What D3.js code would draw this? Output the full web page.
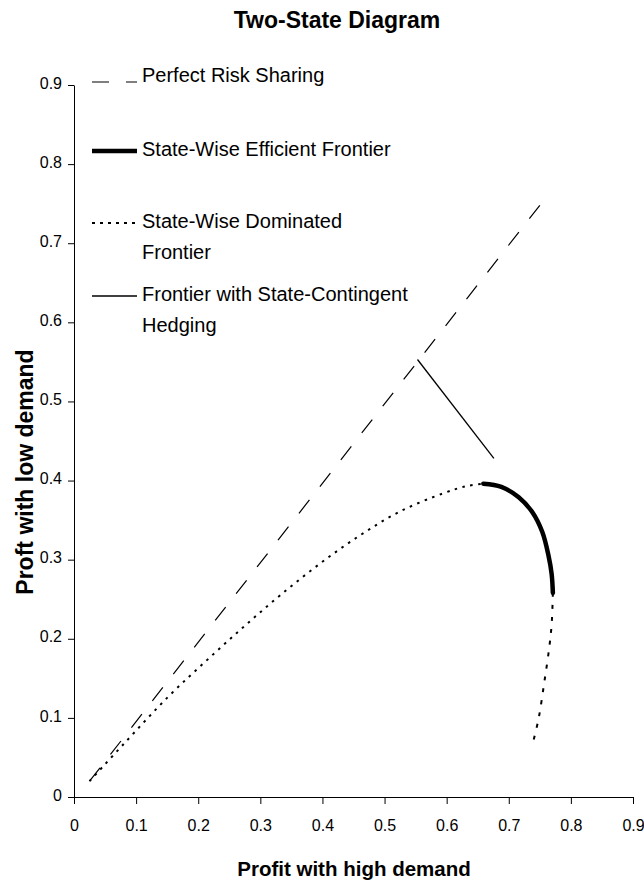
<!DOCTYPE html>
<html>
<head>
<meta charset="utf-8">
<script src="https://cdn.jsdelivr.net/npm/d3@7"></script>
<style>
  body { margin: 0; background: #fff; }
  svg text { font-family: "Liberation Sans", Arial, sans-serif; fill: #000; }
</style>
</head>
<body>
<svg id="chart" width="644" height="880"></svg>
<script>
// ──────────────────────
// Data
// ──────────────────────
const tickValues = [0, 0.1, 0.2, 0.3, 0.4, 0.5, 0.6, 0.7, 0.8, 0.9];

// Perfect risk sharing (45° line)
const riskSharingX = [0.025, 0.763];
const riskSharingY = [0.02, 0.761];

// Frontier with state-contingent hedging
const hedgingX = [0.553, 0.676];
const hedgingY = [0.553, 0.428];

// State-wise efficient frontier (thick)
const efficientX = [0.659, 0.688, 0.716, 0.738, 0.754, 0.764, 0.769, 0.771];
const efficientY = [0.396, 0.392, 0.379, 0.360, 0.335, 0.305, 0.282, 0.258];

// State-wise dominated frontier, rising part
const dominatedUpX = [0.025, 0.08, 0.152, 0.214, 0.273, 0.332, 0.396, 0.461, 0.525, 0.595, 0.632, 0.659];
const dominatedUpY = [0.02, 0.067, 0.127, 0.173, 0.215, 0.255, 0.295, 0.331, 0.361, 0.384, 0.393, 0.396];

// State-wise dominated frontier, falling part
const dominatedDownX = [0.771, 0.769, 0.765, 0.757, 0.748, 0.739];
const dominatedDownY = [0.258, 0.218, 0.188, 0.144, 0.099, 0.069];

const legendLabels = [
  ["Perfect Risk Sharing"],
  ["State-Wise Efficient Frontier"],
  ["State-Wise Dominated", "Frontier"],
  ["Frontier with State-Contingent", "Hedging"]
];

// ──────────────────────
// SVG & scales
// ──────────────────────
const svg = d3.select("#chart");
const margin = { top: 85, right: 11, bottom: 83, left: 74 };
const width = +svg.attr("width");
const height = +svg.attr("height");

const x = d3.scaleLinear().domain([0, 0.9]).range([margin.left, width - margin.right]);
const y = d3.scaleLinear().domain([0, 0.9]).range([height - margin.bottom, margin.top]);

const fmt = d => d === 0 ? "0" : d3.format(".1f")(d);

// ──────────────────────
// Axes
// ──────────────────────
const xAxis = svg.append("g")
  .attr("transform", `translate(0,${y(0)})`)
  .call(d3.axisBottom(x).tickValues(tickValues).tickFormat(fmt).tickSize(7).tickSizeOuter(0).tickPadding(16));

const yAxis = svg.append("g")
  .attr("transform", `translate(${x(0)},0)`)
  .call(d3.axisLeft(y).tickValues(tickValues).tickFormat(fmt).tickSize(6).tickSizeOuter(0).tickPadding(6));

[xAxis, yAxis].forEach(g => {
  g.select(".domain").attr("stroke", "#000");
  g.selectAll(".tick line").attr("stroke", "#000");
  g.selectAll(".tick text").attr("font-size", 16).attr("fill", "#000");
});
yAxis.selectAll(".tick text").attr("dy", "0.2em");

// ──────────────────────
// Series
// ──────────────────────
const zip = (xs, ys) => xs.map((v, i) => [v, ys[i]]);
const line = d3.line().x(d => x(d[0])).y(d => y(d[1]));
const curve = d3.line().x(d => x(d[0])).y(d => y(d[1])).curve(d3.curveCatmullRom.alpha(0.5));

svg.append("path")
  .attr("d", curve(zip(dominatedUpX, dominatedUpY)))
  .attr("fill", "none").attr("stroke", "#000")
  .attr("stroke-width", 2).attr("stroke-dasharray", "2.5,5.5");

svg.append("path")
  .attr("d", curve(zip(dominatedDownX, dominatedDownY)))
  .attr("fill", "none").attr("stroke", "#000")
  .attr("stroke-width", 2).attr("stroke-dasharray", "4,8");

svg.append("path")
  .attr("d", line(zip(riskSharingX, riskSharingY)))
  .attr("fill", "none").attr("stroke", "#000")
  .attr("stroke-width", 1.2).attr("stroke-dasharray", "17,17");

svg.append("path")
  .attr("d", line(zip(hedgingX, hedgingY)))
  .attr("fill", "none").attr("stroke", "#000")
  .attr("stroke-width", 1.3);

svg.append("path")
  .attr("d", curve(zip(efficientX, efficientY)))
  .attr("fill", "none").attr("stroke", "#000")
  .attr("stroke-width", 4.5).attr("stroke-linecap", "round");

// ──────────────────────
// Legend
// ──────────────────────
const legendStyles = [
  { dash: "17,17", w: 1.2 },
  { dash: null, w: 4.5 },
  { dash: "3,5", w: 2 },
  { dash: null, w: 1.3 }
];
const legendRows = [82, 156, 228, 301];

const legend = svg.append("g");
legendLabels.forEach((lines, i) => {
  const g = legend.append("g").attr("transform", `translate(92,${legendRows[i]})`);
  g.append("line")
    .attr("x1", 0).attr("x2", 45)
    .attr("y1", i === 0 ? 0 : -5).attr("y2", i === 0 ? 0 : -5)
    .attr("stroke", "#000")
    .attr("stroke-width", legendStyles[i].w)
    .attr("stroke-dasharray", legendStyles[i].dash);
  lines.forEach((t, j) => {
    g.append("text")
      .attr("x", 50)
      .attr("y", j * 31)
      .attr("font-size", 20)
      .text(t);
  });
});

// ──────────────────────
// Titles
// ──────────────────────
svg.append("text")
  .attr("x", 337).attr("y", 28)
  .attr("text-anchor", "middle")
  .attr("font-size", 23).attr("font-weight", "bold")
  .text("Two-State Diagram");

svg.append("text")
  .attr("x", 354).attr("y", 876)
  .attr("text-anchor", "middle")
  .attr("font-size", 20.5).attr("font-weight", "bold")
  .text("Profit with high demand");

svg.append("text")
  .attr("transform", "rotate(-90)")
  .attr("x", -472).attr("y", 33)
  .attr("text-anchor", "middle")
  .attr("font-size", 23).attr("font-weight", "bold")
  .text("Proft with low demand");
</script>
</body>
</html>
